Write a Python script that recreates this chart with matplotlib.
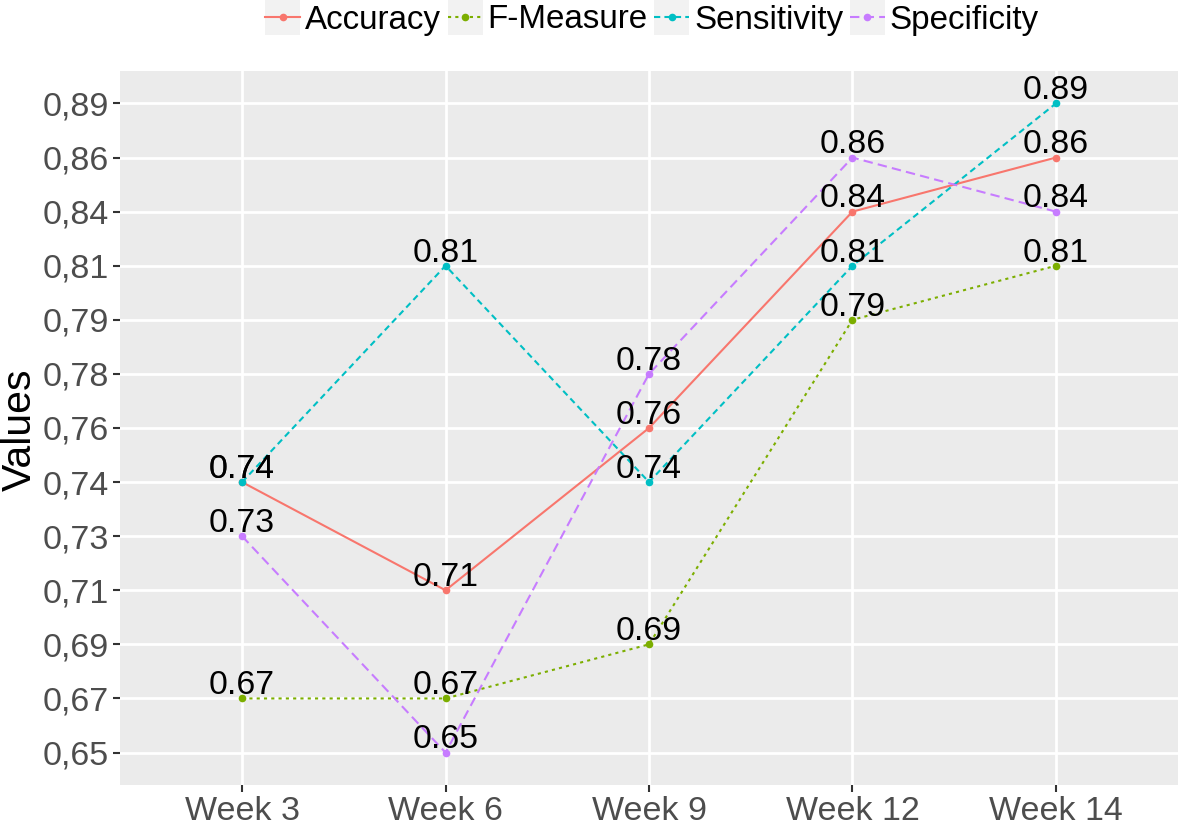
import matplotlib
matplotlib.use("Agg")
import matplotlib.pyplot as plt
from matplotlib.legend_handler import HandlerLine2D
from matplotlib.patches import Rectangle
from matplotlib.lines import Line2D

weeks = ["Week 3", "Week 6", "Week 9", "Week 12", "Week 14"]
accuracy = [0.74, 0.71, 0.76, 0.84, 0.86]
f_measure = [0.67, 0.67, 0.69, 0.79, 0.81]
sensitivity = [0.74, 0.81, 0.74, 0.81, 0.89]
specificity = [0.73, 0.65, 0.78, 0.86, 0.84]

series_names = ["Accuracy", "F-Measure", "Sensitivity", "Specificity"]
series_values = [accuracy, f_measure, sensitivity, specificity]
colors = ["#F8766D", "#7CAE00", "#00BFC4", "#C77CFF"]
dash_styles = [None, (1.5, 2.0), (3.0, 2.0), (4.5, 2.5)]

plt.rcParams['font.family'] = ['Liberation Sans', 'DejaVu Sans']

# discrete y levels (ggplot treated the values as a factor)
levels = sorted(set(v for s in series_values for v in s))
level_idx = {v: i for i, v in enumerate(levels)}

W, H = 1181, 825
fig = plt.figure(figsize=(W / 100, H / 100), dpi=100)
ax = fig.add_axes([120 / W, 40 / H, (1178 - 120) / W, (785 - 71) / H])
ax.set_facecolor("#EBEBEB")
for sp in ax.spines.values():
    sp.set_visible(False)

xs = list(range(len(weeks)))
handles = []
for name, vals, col, ds in zip(series_names, series_values, colors, dash_styles):
    ys = [level_idx[v] for v in vals]
    ln, = ax.plot(xs, ys, color=col, lw=1.5, marker='o', markersize=5.5,
                  markeredgewidth=0, label=name, zorder=3)
    if ds is not None:
        ln.set_dashes(ds)
    handles.append(ln)
    for x, y, v in zip(xs, ys, vals):
        ax.annotate(f"{v:.2f}", (x, y), xytext=(0, 3), textcoords="offset points",
                    ha='center', va='baseline', fontsize=24.3, color='black', zorder=4)

ax.set_xlim(-0.6, len(weeks) - 1 + 0.6)
ax.set_ylim(-0.6, len(levels) - 1 + 0.6)
ax.set_xticks(xs)
ax.set_xticklabels(weeks)
ax.set_yticks(range(len(levels)))
ax.set_yticklabels([f"{v:.2f}".replace(".", ",") for v in levels])
ax.grid(True, color='white', lw=2)
ax.set_axisbelow(True)
ax.tick_params(axis='both', length=5, width=1.5, color='#333333',
               labelcolor='#4D4D4D', labelsize=24.5, pad=3)
fig.text(1 / W, 1 - 430 / H, "Values", rotation=90, ha='left', va='center',
         fontsize=29.5, color='black')


class KeyHandler(HandlerLine2D):
    def create_artists(self, legend, orig_handle, xdescent, ydescent, width,
                       height, fontsize, trans):
        rect = Rectangle((-xdescent, -ydescent - 0.3 * height), width, height * 1.6,
                         facecolor='#F2F2F2', edgecolor='none', transform=trans)
        arts = super().create_artists(legend, orig_handle, xdescent, ydescent,
                                      width, height, fontsize, trans)
        return [rect] + arts


fig.legend(handles=handles, loc='center', bbox_to_anchor=(652 / W, 1 - 20 / H),
           ncol=4, frameon=False, fontsize=23.9, handlelength=1.05,
           handletextpad=0.15, columnspacing=0.2, borderpad=0,
           handler_map={Line2D: KeyHandler(numpoints=1)})

fig.savefig("out.png", dpi=100)
